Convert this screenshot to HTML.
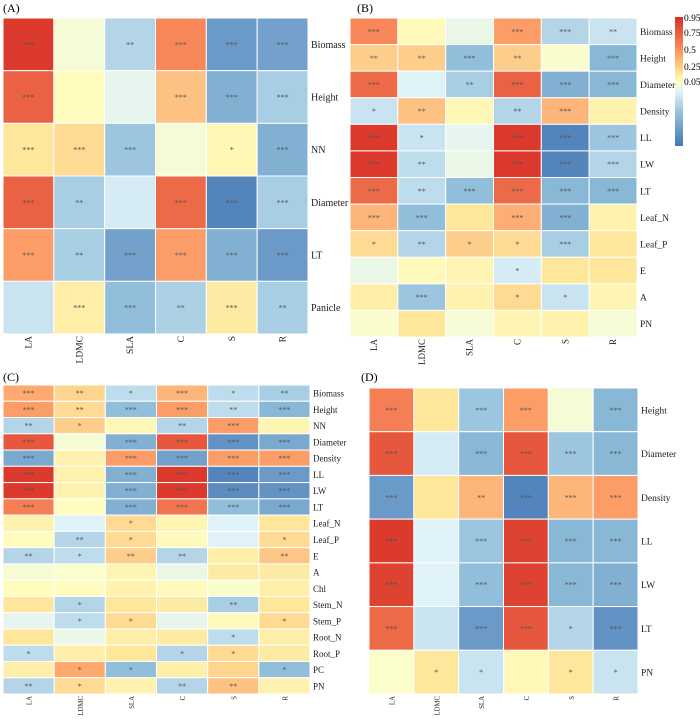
<!DOCTYPE html>
<html><head><meta charset="utf-8"><style>
html,body{margin:0;padding:0;background:#fff;}
svg text{font-family:"Liberation Serif",serif;}
</style></head><body>
<svg id="fig" width="700" height="718" xmlns="http://www.w3.org/2000/svg">
<defs><linearGradient id="cb" x1="0" y1="1" x2="0" y2="0">
<stop offset="0" stop-color="#4575b4"/><stop offset="0.25" stop-color="#91bfdb"/><stop offset="0.42" stop-color="#e0f3f8"/><stop offset="0.5" stop-color="#ffffbf"/><stop offset="0.58" stop-color="#fee090"/><stop offset="0.75" stop-color="#fc8d59"/><stop offset="1" stop-color="#d73027"/></linearGradient></defs>
<rect x="675" y="17" width="8" height="129" fill="url(#cb)"/>
<text x="684" y="21" font-size="9.5">0.95</text>
<text x="684" y="36" font-size="9.5">0.75</text>
<text x="684" y="53" font-size="9.5">0.5</text>
<text x="684" y="70" font-size="9.5">0.25</text>
<text x="684" y="85" font-size="9.5">0.05</text>
</svg>
<script>
const cols = ["LA","LDMC","SLA","C","S","R"];
const rowsA = ["Biomass","Height","NN","Diameter","LT","Panicle"];
const valsA = [
[0.95,-0.05,-0.35,0.55,-0.75,-0.7],
[0.75,0.02,-0.12,0.3,-0.6,-0.4],
[0.15,0.2,-0.45,-0.05,0.05,-0.6],
[0.75,-0.4,-0.2,0.7,-0.9,-0.4],
[0.45,-0.4,-0.7,0.45,-0.6,-0.75],
[-0.25,0.1,-0.5,-0.38,0.12,-0.4]];
const starsA = [
["***","","**","***","***","***"],
["***","","","***","***","***"],
["***","***","***","","*","***"],
["***","**","","***","***","***"],
["***","**","***","***","***","***"],
["","***","***","**","***","**"]];
const rowsB = ["Biomass","Height","Diameter","Density","LL","LW","LT","Leaf_N","Leaf_P","E","A","PN"];
const valsB = [
[0.55,0.03,-0.1,0.45,-0.35,-0.25],
[0.25,0.25,-0.5,0.25,-0.03,-0.55],
[0.7,-0.15,-0.4,0.75,-0.6,-0.55],
[-0.25,0.3,0.05,-0.35,0.35,0.08],
[0.95,-0.25,-0.12,0.95,-0.9,-0.45],
[0.95,-0.3,-0.1,0.95,-0.9,-0.35],
[0.7,-0.3,-0.5,0.7,-0.55,-0.55],
[0.35,-0.5,0.15,0.38,-0.6,0.08],
[0.2,-0.35,0.25,0.2,-0.4,0.15],
[-0.1,0.03,0.06,-0.2,0.15,0.15],
[0.1,-0.45,0.08,0.2,-0.25,0.06],
[-0.03,0.15,-0.05,0.06,0.08,-0.05]];
const starsB = [
["***","","","***","***","**"],
["**","**","***","**","","***"],
["***","","**","***","***","***"],
["*","**","","**","***",""],
["***","*","","***","***","***"],
["***","**","","***","***","***"],
["***","**","***","***","***","***"],
["***","***","","***","***",""],
["*","**","*","*","***",""],
["","","","*","",""],
["","***","","*","*",""],
["","","","","",""]];
const rowsC = ["Biomass","Height","NN","Diameter","Density","LL","LW","LT","Leaf_N","Leaf_P","E","A","Chl","Stem_N","Stem_P","Root_N","Root_P","PC","PN"];
const valsC = [
[0.4,0.22,-0.3,0.35,-0.3,-0.4],
[0.45,0.2,-0.5,0.45,-0.3,-0.55],
[-0.35,0.25,0.05,-0.35,0.45,0.06],
[0.8,-0.05,-0.6,0.8,-0.8,-0.65],
[-0.65,0.08,0.45,-0.7,0.45,0.45],
[0.95,0.08,-0.6,0.95,-0.9,-0.75],
[0.95,0.08,-0.6,0.95,-0.85,-0.8],
[0.6,0.02,-0.6,0.65,-0.5,-0.65],
[0.08,-0.15,0.2,0.06,-0.15,0.15],
[0.02,-0.35,0.2,0.03,-0.15,0.2],
[-0.35,-0.3,0.25,-0.35,0.1,0.28],
[-0.05,-0.02,0.06,-0.1,0.12,0.12],
[0.02,0.02,0.08,0.03,-0.03,0.1],
[0.15,-0.35,0.15,0.12,-0.4,0.15],
[-0.12,-0.3,0.2,-0.12,0.03,0.2],
[0.15,-0.1,0.1,0.12,-0.3,0.1],
[-0.3,0.1,0.15,-0.35,0.2,0.12],
[0.1,0.4,-0.5,0.1,0.22,-0.5],
[-0.35,0.2,0.08,-0.35,0.3,0.08]];
const starsC = [
["***","**","*","***","*","**"],
["***","**","***","***","**","***"],
["**","*","","**","***",""],
["***","","***","***","***","***"],
["***","","***","***","***","***"],
["***","","***","***","***","***"],
["***","","***","***","***","***"],
["***","","***","***","***","***"],
["","","*","","",""],
["","**","*","","","*"],
["**","*","**","**","","**"],
["","","","","",""],
["","","","","",""],
["","*","","","**",""],
["","*","*","","","*"],
["","","","","*",""],
["*","","","*","*",""],
["","*","*","","","*"],
["**","*","","**","**",""]];
const rowsD = ["Height","Diameter","Density","LL","LW","LT","PN"];
const valsD = [
[0.6,0.15,-0.45,0.45,-0.05,-0.55],
[0.8,-0.2,-0.55,0.8,-0.45,-0.55],
[-0.75,0.15,0.35,-0.9,0.35,0.45],
[0.95,-0.15,-0.45,0.9,-0.55,-0.55],
[0.9,-0.15,-0.5,0.9,-0.55,-0.6],
[0.7,-0.25,-0.75,0.8,-0.35,-0.8],
[-0.02,0.15,-0.25,0.04,0.15,-0.25]];
const starsD = [
["***","","***","***","","***"],
["***","","***","***","***","***"],
["***","","**","***","***","***"],
["***","","***","***","***","***"],
["***","","***","***","***","***"],
["***","","***","***","*","***"],
["","*","*","","*","*"]];

const stops=[[-1,[69,117,180]],[-0.5,[145,191,219]],[-0.15,[224,243,248]],[0,[255,255,195]],[0.15,[254,230,155]],[0.5,[252,145,95]],[1,[215,48,39]]];
function color(v){
  v=Math.max(-1,Math.min(1,v));
  for(let i=0;i<stops.length-1;i++){const a=stops[i],b=stops[i+1];
    if(v<=b[0]){const t=(v-a[0])/(b[0]-a[0]);const c=a[1].map((x,k)=>Math.round(x+(b[1][k]-x)*t));return `rgb(${c})`;}}
  return "rgb(215,48,39)";
}
const svg=document.getElementById('fig');
const NS="http://www.w3.org/2000/svg";
function mk(tag,attrs,txt){const e=document.createElementNS(NS,tag);for(const k in attrs)e.setAttribute(k,attrs[k]);if(txt!==undefined)e.textContent=txt;svg.appendChild(e);return e;}
function panel(id,label,lx,ly,x0,y0,x1,y1,rows,vals,stars,fs,cfs){
  const t=mk('text',{x:lx,y:ly,'font-size':12});t.textContent=label;
  
  
  const cw=(x1-x0)/cols.length, rh=(y1-y0)/rows.length;
  const xs=j=>x0+j*cw, ys=i=>y0+i*rh;
  rows.forEach((r,i)=>{
    cols.forEach((c,j)=>{
      const rc=mk('rect',{x:xs(j),y:ys(i),width:cw,height:rh,fill:color(vals[i][j]),stroke:'#fff','stroke-width':1});
      
      
      if(stars[i][j]){const s=mk('text',{x:xs(j)+cw/2,y:ys(i)+rh/2+3,'text-anchor':'middle','font-size':8,fill:'#555'},stars[i][j]);
        
        }
    });
    const rl=mk('text',{x:x1+3,y:ys(i)+rh/2+3.5,'font-size':fs,fill:'#222'},r);
    
    
  });
  cols.forEach((c,j)=>{
    const cx=xs(j)+cw/2+3, cy=y1+2;
    const cl=mk('text',{x:cx,y:cy,'font-size':cfs,fill:'#222','text-anchor':'end',transform:`rotate(-90 ${cx} ${cy})`},c);
    
    
  });
}
panel('a','(A)',3,12,3,18,308,334,rowsA,valsA,starsA,10,9.5);
panel('b','(B)',357,12,350,18,637,337,rowsB,valsB,starsB,9.5,9);
panel('c','(C)',3,381,3,385,310,694,rowsC,valsC,starsC,9,6.8);
panel('d','(D)',361,381,369,388,638,694,rowsD,valsD,starsD,9.5,6.8);
</script>
</body></html>
